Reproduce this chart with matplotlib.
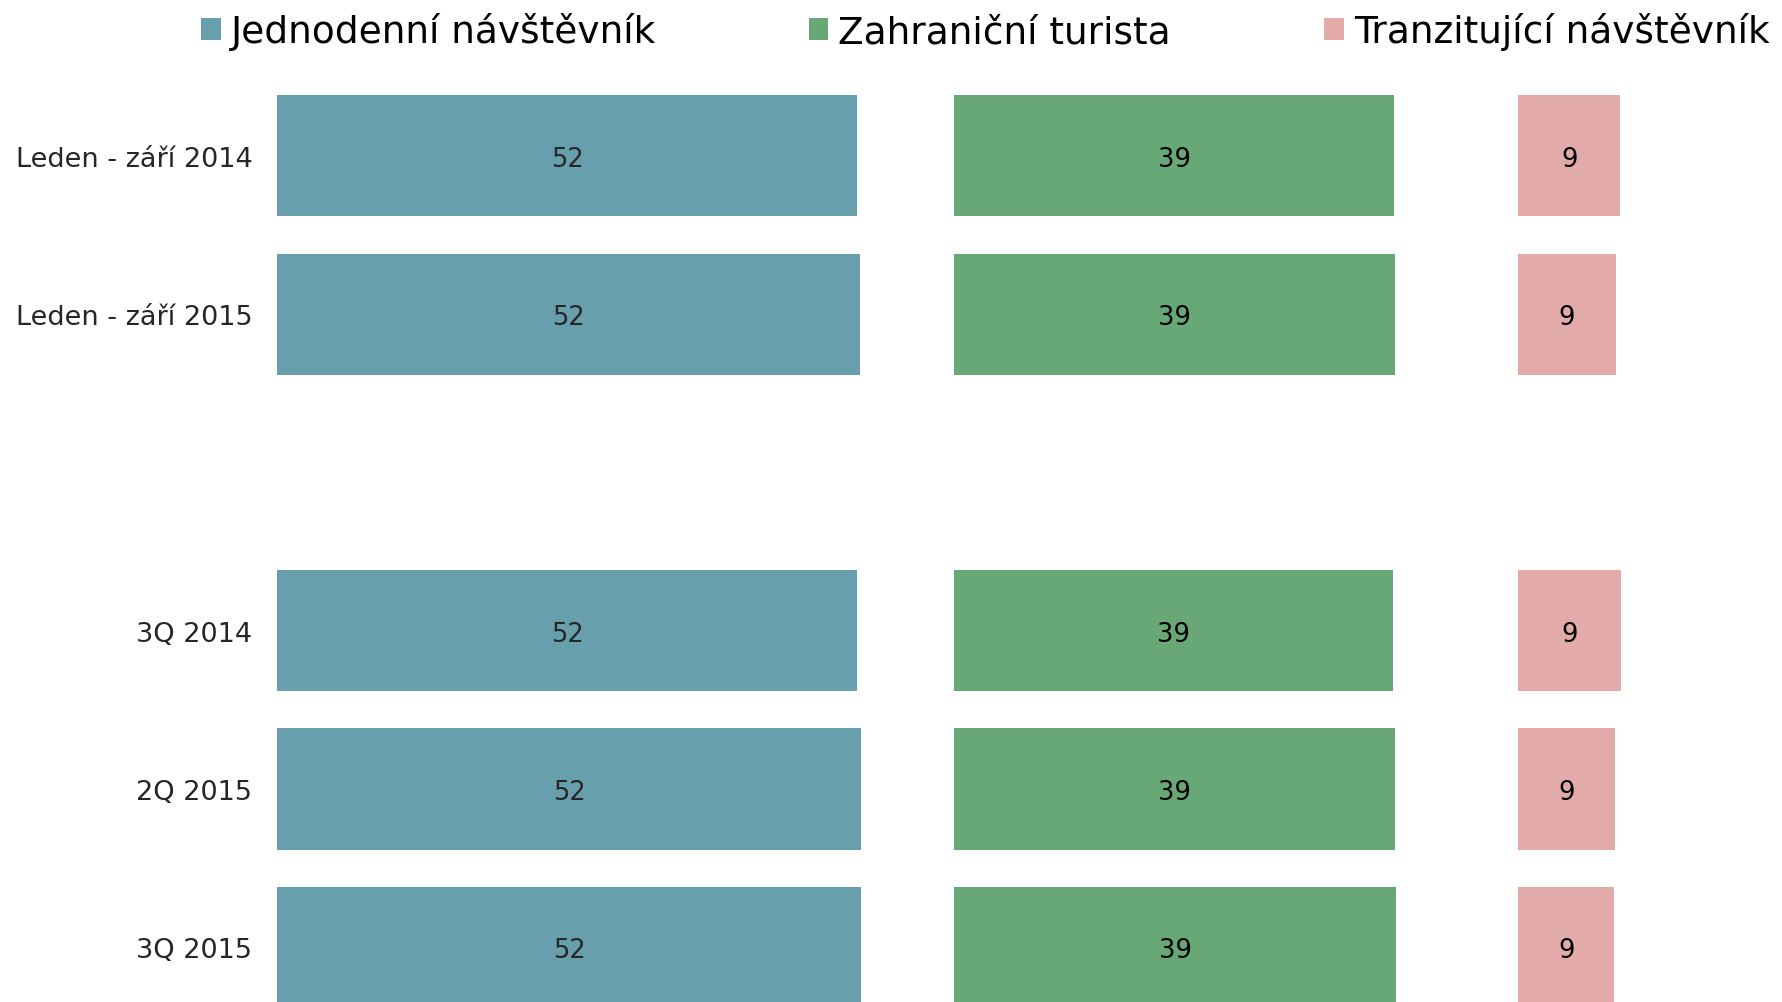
import matplotlib
matplotlib.use("Agg")
import matplotlib.pyplot as plt
from matplotlib.patches import Patch

# Visitor structure by period (shares in %)
categories = ["Leden - září 2014", "Leden - září 2015", "3Q 2014", "2Q 2015", "3Q 2015"]
series_names = ["Jednodenní návštěvník", "Zahraniční turista", "Tranzitující návštěvník"]
jednodenni = [51.7, 52.0, 51.7, 52.1, 52.1]
zahranicni = [39.2, 39.3, 39.1, 39.3, 39.4]
tranzit = [9.1, 8.7, 9.2, 8.6, 8.55]

colors = ["#689fad", "#68a776", "#e2abaa"]
label_colors = ["#262626", "#000000", "#000000"]

# row slots: an empty row separates the year-to-date block from quarters
row_pos = [0, 1, 3, 4, 5]
# horizontal start of each panel (in data units)
panel_start = [0.0, 60.4, 110.7]

W, H = 1782, 1003
fig = plt.figure(figsize=(W / 100, H / 100), dpi=100)
left_px = 277.3
px_per_unit = 11.21
ax = fig.add_axes([left_px / W, 0, 1 - left_px / W, 1])
ax.set_xlim(0, (W - left_px) / px_per_unit)
row_px = 158.3
first_px = 156.8
ax.set_ylim((H - first_px) / row_px, -first_px / row_px)

for vals, start, col, lcol in zip([jednodenni, zahranicni, tranzit], panel_start, colors, label_colors):
    bars = ax.barh(row_pos, vals, left=start, height=0.765, color=col, edgecolor="none")
    for b, v in zip(bars, vals):
        ax.text(b.get_x() + b.get_width() / 2, b.get_y() + b.get_height() / 2,
                f"{round(v):d}", ha="center", va="center_baseline", fontsize=18.5, color=lcol)

ax.set_yticks(row_pos)
ax.set_yticklabels(categories, fontsize=19.5, color="#262626")
ax.tick_params(axis="y", length=0, pad=18)
ax.set_xticks([])
for s in ax.spines.values():
    s.set_visible(False)

handles = [Patch(facecolor=c, edgecolor="none") for c in colors]
fig.legend(handles, series_names, loc="center left", bbox_to_anchor=(201 / W, 1 - 32 / H),
           ncol=3, frameon=False, fontsize=27, handlelength=0.52, handleheight=0.52,
           handletextpad=0.27, columnspacing=4.08, borderaxespad=0, borderpad=0)

fig.savefig("out.png", dpi=100, facecolor="white")
